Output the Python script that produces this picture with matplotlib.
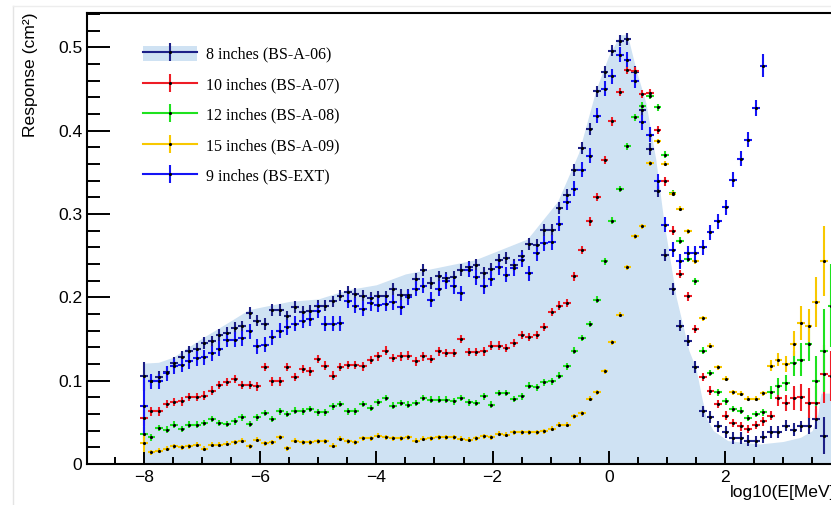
"""
Bonner sphere response functions vs neutron energy, one series per sphere,
with the 8-inch response also shown as a shaded band.
"""

import numpy as np
import matplotlib
matplotlib.use("Agg")
import matplotlib.pyplot as plt
import matplotlib.ticker as mticker
from matplotlib.lines import Line2D
from matplotlib.patches import Patch
from matplotlib.legend_handler import HandlerTuple

# ── energy binning: log10(E/MeV) bin centres ────────────────────────────────
BIN_START = -8.0
BIN_STEP = 0.13
BIN_HALF = 0.065

# ── responses (cm^2) per bin, starting at the first bin ─────────────────────
RESP_8IN = [
    0.105, 0.100, 0.104, 0.110, 0.121, 0.128, 0.135, 0.138, 0.145, 0.147,
    0.155, 0.157, 0.163, 0.165, 0.181, 0.172, 0.168, 0.185, 0.185, 0.177,
    0.188, 0.182, 0.184, 0.190, 0.190, 0.195, 0.202, 0.206, 0.204, 0.202,
    0.199, 0.201, 0.201, 0.210, 0.203, 0.203, 0.222, 0.233, 0.217, 0.225,
    0.223, 0.224, 0.233, 0.236, 0.239, 0.229, 0.234, 0.245, 0.247, 0.239,
    0.250, 0.264, 0.263, 0.281, 0.281, 0.307, 0.323, 0.353, 0.379, 0.402,
    0.447, 0.470, 0.496, 0.508, 0.510, 0.470, 0.425, 0.378, 0.327, 0.251,
    0.210, 0.166, 0.148, 0.116, 0.063, 0.056, 0.045, 0.038, 0.031, 0.031,
    0.028, 0.027, 0.032, 0.038, 0.038, 0.046, 0.041, 0.045, 0.046, 0.054,
    0.034,
]
RESP_9IN = [
    0.069, 0.099, 0.099, 0.109, 0.117, 0.119, 0.123, 0.127, 0.128, 0.133,
    0.138, 0.149, 0.149, 0.151, 0.159, 0.141, 0.143, 0.152, 0.160, 0.164,
    0.168, 0.172, 0.174, 0.184, 0.168, 0.168, 0.169, 0.196, 0.190, 0.186,
    0.193, 0.191, 0.192, 0.194, 0.188, 0.200, 0.210, 0.214, 0.197, 0.210,
    0.219, 0.213, 0.205, 0.233, 0.224, 0.213, 0.222, 0.236, 0.227, 0.235,
    0.245, 0.229, 0.253, 0.265, 0.266, 0.288, 0.314, 0.330, 0.353, 0.370,
    0.418, 0.450, 0.465, 0.491, 0.485, 0.460, 0.410, 0.395, 0.339, 0.287,
    0.257, 0.243, 0.253, 0.253, 0.260, 0.278, 0.291, 0.308, 0.341, 0.366,
    0.389, 0.427, 0.478,
]
RESP_10IN = [
    0.055, 0.063, 0.063, 0.072, 0.074, 0.075, 0.080, 0.080, 0.082, 0.088,
    0.095, 0.098, 0.102, 0.095, 0.095, 0.093, 0.116, 0.099, 0.099, 0.116,
    0.104, 0.114, 0.111, 0.126, 0.118, 0.106, 0.116, 0.119, 0.119, 0.117,
    0.125, 0.129, 0.136, 0.127, 0.129, 0.130, 0.123, 0.129, 0.126, 0.135,
    0.133, 0.133, 0.150, 0.134, 0.134, 0.135, 0.142, 0.142, 0.139, 0.145,
    0.155, 0.152, 0.155, 0.164, 0.182, 0.190, 0.193, 0.225, 0.257, 0.291,
    0.320, 0.365, 0.411, 0.446, 0.473, 0.471, 0.444, 0.445, 0.401, 0.339,
    0.280, 0.228, 0.201, 0.162, 0.104, 0.088, 0.072, 0.058, 0.049, 0.045,
    0.042, 0.047, 0.051, 0.058, 0.079, 0.073, 0.079, 0.080, 0.073, 0.073,
    0.108, 0.105,
]
RESP_12IN = [
    0.036, 0.032, 0.043, 0.041, 0.047, 0.042, 0.047, 0.047, 0.049, 0.054,
    0.049, 0.048, 0.051, 0.056, 0.048, 0.056, 0.061, 0.054, 0.063, 0.060,
    0.064, 0.063, 0.066, 0.062, 0.062, 0.069, 0.072, 0.063, 0.063, 0.072,
    0.067, 0.074, 0.079, 0.070, 0.073, 0.071, 0.073, 0.079, 0.077, 0.077,
    0.077, 0.075, 0.079, 0.074, 0.073, 0.081, 0.071, 0.085, 0.085, 0.078,
    0.081, 0.094, 0.092, 0.098, 0.099, 0.106, 0.117, 0.136, 0.151, 0.168,
    0.197, 0.243, 0.292, 0.330, 0.381, 0.416, 0.430, 0.442, 0.428, 0.371,
    0.325, 0.268, 0.246, 0.219, 0.136, 0.109, 0.086, 0.075, 0.066, 0.064,
    0.055, 0.060, 0.062, 0.086, 0.093, 0.097, 0.121, 0.125, 0.144, 0.099,
    0.136, 0.190,
]
RESP_15IN = [
    0.025, 0.014, 0.016, 0.018, 0.021, 0.020, 0.021, 0.023, 0.018, 0.023,
    0.023, 0.024, 0.026, 0.028, 0.021, 0.029, 0.025, 0.026, 0.032, 0.019,
    0.028, 0.026, 0.026, 0.027, 0.027, 0.022, 0.030, 0.027, 0.026, 0.031,
    0.031, 0.034, 0.032, 0.031, 0.031, 0.032, 0.028, 0.030, 0.031, 0.032,
    0.032, 0.032, 0.030, 0.029, 0.031, 0.033, 0.032, 0.036, 0.035, 0.038,
    0.038, 0.038, 0.038, 0.039, 0.042, 0.047, 0.047, 0.057, 0.061, 0.078,
    0.086, 0.111, 0.146, 0.179, 0.236, 0.273, 0.285, 0.361, 0.387, 0.360,
    0.324, 0.306, 0.279, 0.243, 0.175, 0.142, 0.116, 0.102, 0.086, 0.084,
    0.078, 0.078, 0.085, 0.118, 0.125, 0.120, 0.144, 0.169, 0.166, 0.194,
    0.243,
]

# ── statistical errors: typical value plus the bins where they are larger ──
ERR_8IN, ERR_8IN_WIDE = 0.007, {0: 0.017, 86: 0.008, 88: 0.010, 89: 0.012, 90: 0.022}
ERR_9IN, ERR_9IN_WIDE = 0.009, {0: 0.034, 81: 0.010, 82: 0.014}
ERR_10IN, ERR_10IN_WIDE = 0.005, {0: 0.010, 84: 0.010, 85: 0.010, 86: 0.014, 87: 0.016,
                                  88: 0.018, 89: 0.020, 90: 0.035, 91: 0.030}
ERR_12IN, ERR_12IN_WIDE = 0.004, {0: 0.008, 83: 0.008, 84: 0.010, 85: 0.010, 86: 0.015,
                                  87: 0.020, 88: 0.020, 89: 0.030, 90: 0.050, 91: 0.050}
ERR_15IN, ERR_15IN_WIDE = 0.003, {0: 0.011, 83: 0.007, 84: 0.008, 85: 0.010, 86: 0.015,
                                  87: 0.020, 88: 0.020, 89: 0.030, 90: 0.042}

# ── outline of the shaded 8-inch response band ──────────────────────────────
BAND_LOGE = [-8.0, -7.75, -7.5, -7.0, -6.5, -6.2, -6.0, -5.5, -5.0, -4.5, -4.0,
             -3.5, -3.0, -2.3, -1.4, -0.88, -0.52, -0.22, 0.0, 0.2, 0.32, 0.47,
             0.64, 0.81, 0.95, 1.16, 1.38, 1.5, 1.6, 1.68, 1.8, 2.05, 2.6, 3.0,
             3.3, 3.5, 3.6, 3.65, 3.9]
BAND_RESP = [0.121, 0.122, 0.128, 0.151, 0.172, 0.185, 0.188, 0.195, 0.198, 0.209,
             0.215, 0.228, 0.235, 0.245, 0.27, 0.315, 0.373, 0.449, 0.49, 0.515,
             0.515, 0.473, 0.433, 0.365, 0.29, 0.20, 0.136, 0.115, 0.08, 0.055,
             0.04, 0.028, 0.024, 0.027, 0.032, 0.04, 0.06, 0.085, 0.085]

SPHERES = [
    # label, values, colour, base error, wide errors
    ("8 inches (BS-A-06)", RESP_8IN, "#1d2088", ERR_8IN, ERR_8IN_WIDE),
    ("10 inches (BS-A-07)", RESP_10IN, "#ee1c25", ERR_10IN, ERR_10IN_WIDE),
    ("12 inches (BS-A-08)", RESP_12IN, "#1ee21e", ERR_12IN, ERR_12IN_WIDE),
    ("15 inches (BS-A-09)", RESP_15IN, "#f8c800", ERR_15IN, ERR_15IN_WIDE),
    ("9 inches (BS-EXT)", RESP_9IN, "#1414f5", ERR_9IN, ERR_9IN_WIDE),
]
BAND_COLOUR = "#cfe2f3"

AXIS_FONT = "Liberation Sans"
LEGEND_FONT = "Liberation Serif"


def bin_centres(n):
    return BIN_START + BIN_STEP * np.arange(n)


def error_list(n, base, wide):
    return [wide.get(i, base) for i in range(n)]


def main():
    fig = plt.figure(figsize=(8.31, 5.05), dpi=100)
    W, H = 831, 505
    # axes box in pixels: left 87, right edge of the figure, top 13, bottom 464
    ax = fig.add_axes([87 / W, (H - 464) / H, (W - 87) / W, 451 / H])

    ax.fill_between(BAND_LOGE, BAND_RESP, 0, color=BAND_COLOUR, lw=0, zorder=0.8)

    order = [3, 2, 1, 4, 0]   # draw 15" first, 8" last
    for k in order:
        label, vals, colour, base, wide = SPHERES[k]
        n = len(vals)
        ax.errorbar(
            bin_centres(n), vals,
            yerr=error_list(n, base, wide), xerr=BIN_HALF,
            fmt=".", color="black", ms=2.5, ecolor=colour,
            elinewidth=1.5, capsize=0, zorder=2 + k * 0.01,
        )

    ax.set_xlim(-8.98, 3.825)
    ax.set_ylim(0, 0.541)
    ax.xaxis.set_major_locator(mticker.MultipleLocator(2))
    ax.xaxis.set_minor_locator(mticker.MultipleLocator(0.5))
    ax.yaxis.set_major_locator(mticker.MultipleLocator(0.1))
    ax.yaxis.set_minor_locator(mticker.MultipleLocator(0.02))
    ax.yaxis.set_major_formatter(mticker.FuncFormatter(lambda v, p: f"{v:g}"))

    ax.tick_params(which="both", direction="in", top=False, right=False,
                   width=1.4, color="black")
    ax.tick_params(axis="y", which="major", length=16.5, pad=3.5)
    ax.tick_params(axis="y", which="minor", length=9.4)
    ax.tick_params(axis="x", which="major", length=9.4, pad=4)
    ax.tick_params(axis="x", which="minor", length=5)
    for lab in ax.get_xticklabels() + ax.get_yticklabels():
        lab.set_fontfamily(AXIS_FONT)
        lab.set_fontsize(12.6)

    for side in ("left", "bottom", "top"):
        ax.spines[side].set_linewidth(1.5)
    ax.spines["right"].set_visible(False)

    fig.text(30 / W, 1 - 12 / H, "Response (cm²)", rotation=90,
             ha="center", va="top", fontsize=12.6, family=AXIS_FONT)
    fig.text(730 / W, 1 - 493 / H, "log10(E[MeV])",
             ha="left", va="center", fontsize=12.6, family=AXIS_FONT)

    # legend: shaded box + cross for the 8", plain crosses for the rest
    handles, labels = [], []
    for k in [0, 1, 2, 3, 4]:
        label, vals, colour, base, wide = SPHERES[k]
        cross = Line2D([], [], color=colour, lw=1.5, marker="|", ms=13, mew=1.5)
        dot = Line2D([], [], ls="none", marker=".", color="black", ms=2.5)
        if k == 0:
            handles.append((Patch(facecolor=BAND_COLOUR, edgecolor="none"), cross, dot))
        else:
            handles.append((cross, dot))
        labels.append(label)

    ax.legend(
        handles, labels, loc="upper left",
        bbox_to_anchor=((143 - 87) / (W - 87), 1 - (46 - 13) / 451),
        frameon=False, borderpad=0, borderaxespad=0,
        handlelength=3.4, handleheight=1.05, handletextpad=0.55,
        labelspacing=0.85, numpoints=1,
        handler_map={tuple: HandlerTuple(ndivide=1)},
        prop={"family": LEGEND_FONT, "size": 11.5},
    )

    # faint frame lines around the panel
    fig.add_artist(Line2D([13 / W, 13 / W], [0, 1 - 6 / H], transform=fig.transFigure,
                          color="#e4e4e4", lw=1))
    fig.add_artist(Line2D([13 / W, 1], [1 - 6 / H, 1 - 6 / H], transform=fig.transFigure,
                          color="#ededed", lw=1))

    fig.savefig("out.png", dpi=100)
    plt.close(fig)


if __name__ == "__main__":
    main()
